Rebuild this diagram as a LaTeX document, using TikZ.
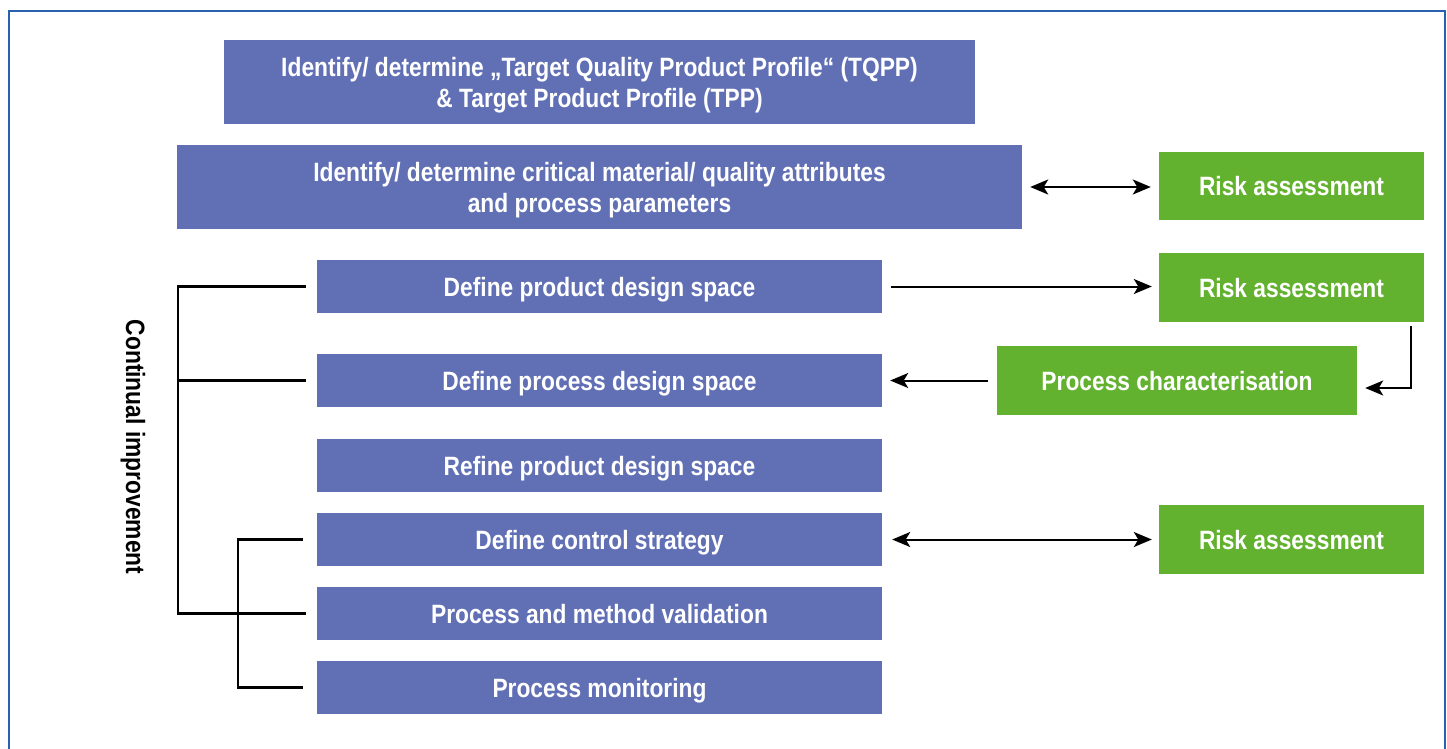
\documentclass[tikz,border=0pt]{standalone}
\usepackage{fontspec}
\setmainfont{Liberation Sans}[FakeStretch=0.86]
\usetikzlibrary{arrows.meta}
\definecolor{stepblue}{RGB}{97,112,181}
\definecolor{riskgreen}{RGB}{99,178,47}
\definecolor{framblue}{RGB}{40,98,172}
\tikzset{
  box/.style={rectangle, inner sep=0pt, text=white, text depth=0pt, font=\bfseries\fontsize{26.5}{31}\selectfont, align=center},
  stepbox/.style={box, fill=stepblue},
  riskbox/.style={box, fill=riskgreen},
  link/.style={line width=2pt, -{Stealth[length=18pt,width=15pt,inset=4.5pt]}},
  dlink/.style={line width=2pt, {Stealth[length=18pt,width=15pt,inset=4.5pt]}-{Stealth[length=18pt,width=15pt,inset=4.5pt]}},
  bracket/.style={line width=2.2pt},
}
\begin{document}
\begin{tikzpicture}[x=1pt,y=-1pt]
\useasboundingbox (0,0) rectangle (1447,748);
% outer frame (open at the bottom)
\draw[framblue, line width=1.6pt] (8.8,760) -- (8.8,10.8) -- (1445.2,10.8) -- (1445.2,760);

% process steps
\node[stepbox, minimum width=751pt, minimum height=84pt] (tqpp) at (599.5,82)
  {Identify/ determine „Target Quality Product Profile“ (TQPP)\\ \& Target Product Profile (TPP)};
\node[stepbox, minimum width=845pt, minimum height=84pt] (crit) at (599.5,187)
  {Identify/ determine critical material/ quality attributes\\ and process parameters};
\node[stepbox, minimum width=565pt, minimum height=53pt] (pds) at (599.5,286.5) {Define product design space};
\node[stepbox, minimum width=565pt, minimum height=53pt] (prds) at (599.5,380.5) {Define process design space};
\node[stepbox, minimum width=565pt, minimum height=53pt] (rpds) at (599.5,465.5) {Refine product design space};
\node[stepbox, minimum width=565pt, minimum height=53pt] (cs) at (599.5,539.5) {Define control strategy};
\node[stepbox, minimum width=565pt, minimum height=53pt] (pmv) at (599.5,613.5) {Process and method validation};
\node[stepbox, minimum width=565pt, minimum height=53pt] (pm) at (599.5,687.5) {Process monitoring};

% supporting activities
\node[riskbox, minimum width=265pt, minimum height=68pt] (ra1) at (1291.5,186) {Risk assessment};
\node[riskbox, minimum width=265pt, minimum height=69pt] (ra2) at (1291.5,287.5) {Risk assessment};
\node[riskbox, minimum width=360pt, minimum height=69pt] (pc) at (1177,380.5) {Process characterisation};
\node[riskbox, minimum width=265pt, minimum height=69pt] (ra3) at (1291.5,539.5) {Risk assessment};

% side label
\node[rotate=-90, font=\bfseries\fontsize{26.5}{30}\selectfont] (ci) at (133,447) {Continual improvement};

% connectors
\draw[dlink, shorten <=8pt, shorten >=8pt] (crit.east) -- (crit.east -| ra1.west);
\draw[link, shorten <=9pt, shorten >=7pt] (pds.east) -- (pds.east -| ra2.west);
\draw[link, shorten <=9pt, shorten >=8pt] (pc.west) -- (pc.west -| prds.east);
\draw[link, shorten >=8pt] ([xshift=-13pt,yshift=-4pt]ra2.south east) |- ([yshift=-7.5pt]pc.east);
\draw[dlink, shorten <=10pt, shorten >=7pt] (cs.east) -- (cs.east -| ra3.west);

% improvement brackets
\coordinate (bigx) at (178,0);
\coordinate (smallx) at (238,0);
\draw[bracket] ([xshift=-11pt]pds.west) -| (bigx |- pmv.west) -- ([xshift=-11pt]pmv.west);
\draw[bracket] ([xshift=-11pt]prds.west) -- (bigx |- prds.west);
\draw[bracket] ([xshift=-14pt]cs.west) -| (smallx |- pm.west) -- ([xshift=-14pt]pm.west);
\end{tikzpicture}
\end{document}
